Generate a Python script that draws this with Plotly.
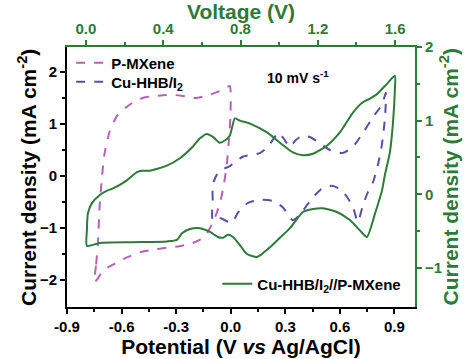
import plotly.graph_objects as go

# P-MXene (bottom x: Potential V vs Ag/AgCl, left y: mA cm-2)
pm_x = [-0.749, -0.740, -0.730, -0.721, -0.710, -0.695, -0.666, -0.622, -0.556, -0.484, -0.429, -0.374,
        -0.319, -0.250, -0.187, -0.116, -0.049, -0.005, 0.000, -0.002, -0.010, -0.022, -0.038, -0.055,
        -0.075, -0.099, -0.140, -0.171, -0.225, -0.281, -0.352, -0.429, -0.500, -0.580, -0.622,
        -0.666, -0.705, -0.732, -0.749]
pm_y = [-2.04, -1.70, -1.30, -0.60, -0.12, 0.40, 0.85, 1.17, 1.37, 1.50, 1.53, 1.55,
        1.56, 1.53, 1.50, 1.56, 1.65, 1.73, 1.56, 1.12, 0.69, 0.21, -0.17, -0.46,
        -0.69, -0.90, -1.15, -1.23, -1.31, -1.35, -1.38, -1.42, -1.47, -1.58, -1.66,
        -1.74, -1.83, -1.98, -2.04]

# Cu-HHB/I2 (bottom x, left y)
cu_x = [-0.099, -0.099, -0.099, -0.077, -0.049, -0.005, 0.066, 0.160, 0.204, 0.264, 0.297, 0.325,
        0.358, 0.391, 0.435, 0.490, 0.545, 0.616, 0.671, 0.727, 0.782, 0.831, 0.853, 0.848,
        0.831, 0.809, 0.782, 0.754, 0.727, 0.699, 0.672, 0.639, 0.600, 0.556, 0.507, 0.463,
        0.419, 0.380, 0.341, 0.286, 0.231, 0.160, 0.094, 0.039, 0.006, -0.061, -0.099]
cu_y = [-0.85, -0.46, -0.17, 0.02, 0.12, 0.19, 0.37, 0.44, 0.56, 0.83, 0.69, 0.56,
        0.69, 0.77, 0.75, 0.63, 0.50, 0.44, 0.56, 0.83, 1.13, 1.37, 1.60, 1.12,
        0.60, 0.21, -0.12, -0.31, -0.56, -0.88, -0.60, -0.40, -0.25, -0.19, -0.23, -0.37,
        -0.56, -0.75, -0.85, -0.60, -0.48, -0.46, -0.52, -0.71, -0.90, -0.81, -0.85]

# Cu-HHB/I2//P-MXene (top x: Voltage V, right y: mA cm-2)
fc_x = [0.005, 0.005, 0.010, 0.031, 0.072, 0.109, 0.140, 0.212, 0.264, 0.290, 0.331, 0.419,
        0.486, 0.554, 0.590, 0.626, 0.657, 0.693, 0.719, 0.745, 0.771, 0.797, 0.849, 0.937,
        1.004, 1.071, 1.123, 1.175, 1.247, 1.314, 1.382, 1.428, 1.470, 1.506, 1.558, 1.599,
        1.599, 1.589, 1.573, 1.547, 1.532, 1.496, 1.454, 1.418, 1.366, 1.299, 1.226, 1.175,
        1.123, 1.056, 1.004, 0.952, 0.911, 0.885, 0.833, 0.797, 0.761, 0.735, 0.709, 0.683,
        0.642, 0.590, 0.538, 0.497, 0.471, 0.419, 0.243, 0.072, 0.005]
fc_y = [-0.70, -0.49, -0.26, -0.12, -0.01, 0.05, 0.08, 0.19, 0.30, 0.32, 0.32, 0.39,
        0.49, 0.65, 0.76, 0.82, 0.78, 0.70, 0.73, 0.80, 1.03, 1.00, 0.96, 0.84,
        0.70, 0.57, 0.53, 0.55, 0.66, 0.84, 1.11, 1.24, 1.30, 1.36, 1.50, 1.61,
        1.43, 0.97, 0.57, 0.26, 0.05, -0.26, -0.58, -0.49, -0.35, -0.24, -0.19, -0.20,
        -0.24, -0.46, -0.59, -0.72, -0.81, -0.85, -0.81, -0.69, -0.58, -0.55, -0.59, -0.58,
        -0.51, -0.46, -0.47, -0.53, -0.62, -0.64, -0.65, -0.66, -0.70]

GREEN = "#2d7a3a"
MAG = "#b463b4"
PUR = "#5a4fa6"
FONT = "Liberation Sans, Arial, sans-serif"

fig = go.Figure()
fig.add_trace(go.Scatter(x=pm_x, y=pm_y, mode="lines", name="P-MXene",
                         line=dict(color=MAG, width=2, dash="dash", shape="spline", smoothing=0.6),
                         legend="legend"))
fig.add_trace(go.Scatter(x=cu_x, y=cu_y, mode="lines", name="Cu-HHB/I<sub>2</sub>",
                         line=dict(color=PUR, width=2, dash="dash", shape="spline", smoothing=0.6),
                         legend="legend3"))
fig.add_trace(go.Scatter(x=fc_x, y=fc_y, mode="lines", name="Cu-HHB/I<sub>2</sub>//P-MXene",
                         xaxis="x2", yaxis="y2",
                         line=dict(color=GREEN, width=2, shape="spline", smoothing=0.6),
                         legend="legend2"))

tickfont_k = dict(family=FONT, size=15, color="black", weight="bold")
tickfont_g = dict(family=FONT, size=15, color=GREEN, weight="bold")
TS = 21
LF = dict(family=FONT, size=15, color="black", weight="bold")

fig.update_layout(
    width=469, height=359,
    margin=dict(l=67, r=54, t=47, b=52),
    paper_bgcolor="white", plot_bgcolor="white",
    font=dict(family=FONT),
    xaxis=dict(range=[-0.9, 1.013], tickvals=[-0.9, -0.6, -0.3, 0.0, 0.3, 0.6, 0.9],
               ticktext=["-0.9", "-0.6", "-0.3", "0.0", "0.3", "0.6", "0.9"], automargin=False,
               showline=True, linecolor="black", linewidth=2, ticks="outside", ticklen=5,
               tickwidth=1.5, tickcolor="black", tickfont=tickfont_k, showgrid=False, zeroline=False,
               minor=dict(tickvals=[-0.75, -0.45, -0.15, 0.15, 0.45, 0.75], ticklen=3,
                          tickcolor="black", ticks="outside"),
               title=dict(text="Potential (V <i>vs</i> Ag/AgCl)", standoff=2,
                          font=dict(family=FONT, size=TS, color="black", weight="bold"))),
    yaxis=dict(range=[-2.52, 2.48], tickvals=[-2, -1, 0, 1, 2], automargin=False,
               showline=True, linecolor="black", linewidth=2, ticks="outside", ticklen=5,
               tickwidth=1.5, tickcolor="black", tickfont=tickfont_k, showgrid=False, zeroline=False,
               minor=dict(tickvals=[-1.5, -0.5, 0.5, 1.5], ticklen=3, tickcolor="black", ticks="outside")),
    xaxis2=dict(range=[-0.098, 1.703], overlaying="x", side="top", automargin=False,
                tickvals=[0.0, 0.4, 0.8, 1.2, 1.6], ticktext=["0.0", "0.4", "0.8", "1.2", "1.6"],
                showline=True, linecolor=GREEN, linewidth=2, ticks="outside", ticklen=5,
                tickwidth=1.5, tickcolor=GREEN, tickfont=tickfont_g, showgrid=False, zeroline=False,
                minor=dict(tickvals=[0.2, 0.6, 1.0, 1.4], ticklen=3, tickcolor=GREEN, ticks="outside"),
                title=dict(text="Voltage (V)", standoff=4,
                           font=dict(family=FONT, size=TS, color=GREEN, weight="bold"))),
    yaxis2=dict(range=[-1.53, 2.0], overlaying="y", side="right", automargin=False,
                tickvals=[-1, 0, 1, 2],
                showline=True, linecolor=GREEN, linewidth=2, ticks="outside", ticklen=5,
                tickwidth=1.5, tickcolor=GREEN, tickfont=tickfont_g, showgrid=False, zeroline=False,
                minor=dict(tickvals=[-0.5, 0.5, 1.5], ticklen=3, tickcolor=GREEN, ticks="outside")),
    legend=dict(x=0.012, y=0.938, xanchor="left", yanchor="middle", bgcolor="rgba(0,0,0,0)",
                font=LF, itemwidth=30),
    legend3=dict(x=0.012, y=0.865, xanchor="left", yanchor="middle", bgcolor="rgba(0,0,0,0)",
                 font=LF, itemwidth=30),
    legend2=dict(x=0.975, y=0.088, xanchor="right", yanchor="middle", bgcolor="rgba(0,0,0,0)",
                 font=LF, itemwidth=30),
    showlegend=True,
    annotations=[
        dict(text="10 mV s<sup>-1</sup>", xref="paper", yref="paper", x=0.665, y=0.925,
             showarrow=False, font=dict(family=FONT, size=14, color="black", weight="bold")),
        dict(text="Current density (mA cm<sup>-2</sup>)", xref="paper", yref="paper",
             x=-0.115, y=0.5, textangle=-90, showarrow=False, xanchor="center", yanchor="middle",
             font=dict(family=FONT, size=TS, color="black", weight="bold")),
        dict(text="Current density (mA cm<sup>-2</sup>)", xref="paper", yref="paper",
             x=1.099, y=0.5, textangle=-90, showarrow=False, xanchor="center", yanchor="middle",
             font=dict(family=FONT, size=TS, color=GREEN, weight="bold")),
    ],
)

fig.write_html("out.html", config={"displayModeBar": False},
               post_script="document.body.style.margin='0';document.body.style.overflow='hidden';")
